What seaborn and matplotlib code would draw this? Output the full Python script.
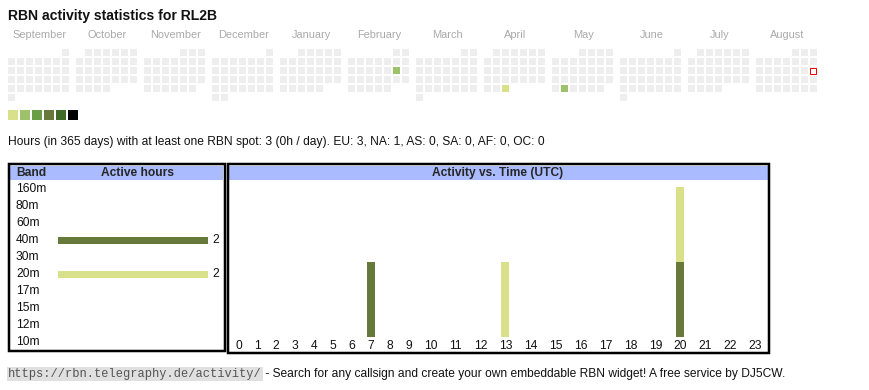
import numpy as np
import pandas as pd
import matplotlib
matplotlib.use("Agg")
import matplotlib.pyplot as plt
from matplotlib.patches import Rectangle
import seaborn as sns

# ---------------- data ----------------
title = "RBN activity statistics for RL2B"
months = ["September", "October", "November", "December", "January", "February",
          "March", "April", "May", "June", "July", "August"]
period_start = "2024-09-01"
period_end = "2025-08-31"
today = "2025-08-17"
active_days = ["2025-02-15", "2025-04-30", "2025-05-27"]
active_levels = [2, 1, 2]
level_colors = ["#eeeeee", "#d9e08a", "#9dc26b", "#6a9e45", "#66793b", "#3e6b28", "#000000"]
summary = ("Hours (in 365 days) with at least one RBN spot: 3 (0h / day). "
           "EU: 3, NA: 1, AS: 0, SA: 0, AF: 0, OC: 0")
bands = ["160m", "80m", "60m", "40m", "30m", "20m", "17m", "15m", "12m", "10m"]
band_hours = [0, 0, 0, 2, 0, 2, 0, 0, 0, 0]
color_40m = "#66793b"
color_20m = "#d9e08a"
hours = list(range(24))
hours_40m = [0, 0, 0, 0, 0, 0, 0, 1, 0, 0, 0, 0, 0, 0, 0, 0, 0, 0, 0, 0, 1, 0, 0, 0]
hours_20m = [0, 0, 0, 0, 0, 0, 0, 0, 0, 0, 0, 0, 0, 1, 0, 0, 0, 0, 0, 0, 1, 0, 0, 0]
footer_url = "https://rbn.telegraphy.de/activity/"
footer_text = " - Search for any callsign and create your own embeddable RBN widget! A free service by DJ5CW."

# ---------------- style ----------------
sns.set_theme(style="white")
plt.rcParams["font.family"] = ["Liberation Sans", "DejaVu Sans"]
W, H = 870, 390
PX = 0.72            # points per pixel at dpi 100
FS_S = 11 * PX       # month labels
FS = 12 * PX         # body text
HEADER_BLUE = "#aabbff"

fig = plt.figure(figsize=(W / 100, H / 100), dpi=100)
fig.patch.set_facecolor("white")


def px_axes(x0, y0, x1, y1, **kw):
    return fig.add_axes([x0 / W, 1 - y1 / H, (x1 - x0) / W, (y1 - y0) / H], **kw)


# overlay axes in pixel units
ov = px_axes(0, 0, W, H)
ov.set_xlim(0, W)
ov.set_ylim(H, 0)
ov.axis("off")

ov.text(8, 16, title, fontsize=14 * PX, fontweight="bold", va="center", ha="left", color="#111111")

# ---------------- calendar ----------------
dates = pd.date_range(period_start, period_end, freq="D")
start = pd.Timestamp(period_start)
levels = pd.Series(0, index=dates)
levels.loc[pd.to_datetime(active_days)] = active_levels
month_idx = (dates.year - start.year) * 12 + dates.month - start.month
first_wd = dates.to_period("M").to_timestamp().weekday
row = (dates.day - 1 + first_wd) // 7
col = dates.weekday
cx = 8 + np.asarray(month_idx) * 68 + np.asarray(col) * 9
cy = 49 + np.asarray(row) * 9
ov.bar(cx, 7, width=7, bottom=cy, align="edge",
       color=[level_colors[v] for v in levels.values], linewidth=0)

t_idx = dates.get_loc(pd.Timestamp(today))
ov.bar(cx[t_idx] + 0.5, 6, width=6, bottom=cy[t_idx] + 0.5, align="edge",
       facecolor="white", edgecolor="#ee0000", linewidth=1 * PX)

for i, m in enumerate(months):
    ov.text(8 + i * 68 + 31.5, 35, m, ha="center", va="center", fontsize=FS_S, color="#aaaaaa")

for i, c in enumerate(level_colors[1:]):
    ov.bar(8 + i * 12, 10, width=10, bottom=110, align="edge", color=c, linewidth=0)

ov.text(8, 142, summary, ha="left", va="center", fontsize=FS, color="#111111")

# ---------------- panels ----------------
ov.add_patch(Rectangle((10, 165.5), 213.5, 14.5, facecolor=HEADER_BLUE, edgecolor="none"))
ov.add_patch(Rectangle((229, 165.5), 539, 14.5, facecolor=HEADER_BLUE, edgecolor="none"))
ov.add_patch(Rectangle((8.75, 164.25), 216, 187, facecolor="none", edgecolor="black", linewidth=2.5 * PX))
ov.add_patch(Rectangle((227.75, 164.25), 541.5, 189, facecolor="none", edgecolor="black", linewidth=2.5 * PX))
ov.text(16, 173, "Band", fontsize=FS, fontweight="bold", va="center", ha="left")
ov.text(138, 173, "Active hours", fontsize=FS, fontweight="bold", va="center", ha="center")
ov.text(498, 173, "Activity vs. Time (UTC)", fontsize=FS, fontweight="bold", va="center", ha="center")

# ---------------- band chart ----------------
axb = px_axes(58, 180.8, 208, 350.8)
axb.patch.set_alpha(0)
band_df = pd.DataFrame({"band": bands, "hours": band_hours})
band_pal = {b: (color_40m if b == "40m" else color_20m if b == "20m" else color_40m) for b in bands}
sns.barplot(data=band_df, x="hours", y="band", hue="band", palette=band_pal, orient="y",
            width=7 / 17, saturation=1, legend=False, errorbar=None, ax=axb, linewidth=0)
axb.set_xlim(0, max(band_hours))
axb.set_ylim(len(bands) - 0.5, -0.5)
axb.set_xlabel("")
axb.set_ylabel("")
axb.set_xticks([])
for s in axb.spines.values():
    s.set_visible(False)
axb.tick_params(axis="y", length=0, pad=(58 - 16) * PX, labelsize=FS, labelcolor="#111111")
for lab in axb.get_yticklabels():
    lab.set_horizontalalignment("left")
    lab.set_verticalalignment("center")
for cont in axb.containers:
    labs = ["" if v == 0 else f"{int(v)}" for v in cont.datavalues]
    axb.bar_label(cont, labels=labs, padding=3, fontsize=FS, color="#111111")

# ---------------- hour chart ----------------
col_w = np.array([12.8 + 6.1 * len(str(h)) for h in hours])
centers = np.cumsum(col_w) - col_w / 2
total_w = col_w.sum()
unit_px = 75
axh = px_axes(229, 180, 229 + total_w, 337)
axh.patch.set_alpha(0)
totals = np.add(hours_40m, hours_20m)
sns.barplot(x=centers, y=totals, native_scale=True, orient="x", color=color_20m,
            width=8 / col_w.min(), saturation=1, errorbar=None, ax=axh, linewidth=0)
sns.barplot(x=centers, y=np.asarray(hours_40m), native_scale=True, orient="x", color=color_40m,
            width=8 / col_w.min(), saturation=1, errorbar=None, ax=axh, linewidth=0)
axh.set_xlim(0, total_w)
axh.set_ylim(0, 157 / unit_px)
axh.set_xticks(centers, [str(h) for h in hours])
axh.set_yticks([])
axh.set_xlabel("")
axh.set_ylabel("")
axh.tick_params(axis="x", length=0, pad=2.0, labelsize=FS, labelcolor="#111111")
for s in axh.spines.values():
    s.set_visible(False)

# ---------------- footer ----------------
t_url = ov.text(8, 374, footer_url, ha="left", va="center", fontsize=12 * PX,
                family="Liberation Mono", color="#555555",
                bbox=dict(facecolor="#e0e0e0", edgecolor="none", pad=1.0))
ov.annotate(footer_text, xy=(1, 0.5), xycoords=t_url, ha="left", va="center",
            fontsize=FS, color="#111111")

fig.savefig("out.png", dpi=100, facecolor="white")
